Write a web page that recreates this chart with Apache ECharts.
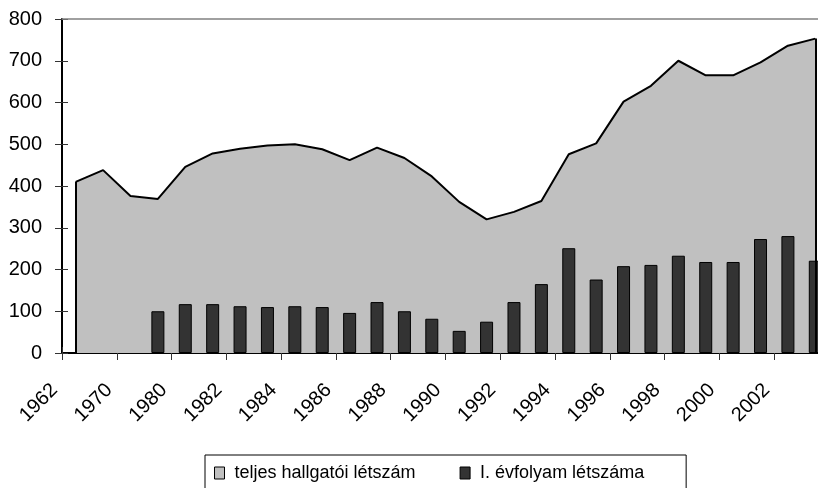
<!DOCTYPE html>
<html>
<head>
<meta charset="utf-8">
<script src="https://cdn.jsdelivr.net/npm/echarts@6/dist/echarts.min.js"></script>
<style>
  html, body { margin: 0; padding: 0; background: #fff; overflow: hidden; }
  #main { width: 829px; height: 488px; }
</style>
</head>
<body>
<div id="main"></div>
<script>
// évek (kategóriák)
const years = ['1962', '1965', '1970', '1975', '1980', '1981', '1982', '1983', '1984', '1985',
  '1986', '1987', '1988', '1989', '1990', '1991', '1992', '1993', '1994', '1995',
  '1996', '1997', '1998', '1999', '2000', '2001', '2002', '2003'];
// teljes hallgatói létszám
const total = [410, 438, 376, 369, 446, 478, 489, 497, 500, 488,
  462, 492, 467, 423, 362, 320, 338, 364, 476, 502,
  602, 640, 700, 665, 665, 696, 736, 753];
// I. évfolyam létszáma
const firstYear = [null, null, null, 100, 117, 117, 112, 110, 112, 110,
  96, 122, 100, 82, 53, 75, 122, 165, 251, 176,
  208, 211, 233, 218, 218, 273, 280, 221];

const FONT = 'Liberation Sans, Arial, sans-serif';
// a diagram jobb széle kilóg a 818 px-es képből, ezért szélesebb a vászon
const chart = echarts.init(document.getElementById('main'));

chart.setOption({
  animation: false,
  backgroundColor: '#fff',
  grid: { left: 62, top: 19, right: 0, height: 334 },
  legend: {
    left: 205, top: 455,
    orient: 'horizontal',
    padding: [9, 42, 20, 9],
    itemGap: 44,
    itemWidth: 10, itemHeight: 12,
    borderColor: '#000', borderWidth: 1,
    textStyle: { fontFamily: FONT, fontSize: 18, color: '#000', padding: [0, 0, 0, 5] },
    data: [
      { name: 'teljes hallgatói létszám', icon: 'rect',
        itemStyle: { color: '#c0c0c0', borderColor: '#000', borderWidth: 1 } },
      { name: 'I. évfolyam létszáma', icon: 'rect',
        itemStyle: { color: '#333333', borderColor: '#000', borderWidth: 1 } }
    ]
  },
  xAxis: [{
    type: 'category',
    data: years,
    boundaryGap: true,
    axisLine: { lineStyle: { color: '#000', width: 2 } },
    axisTick: { show: true, length: 7, lineStyle: { color: '#333', width: 1 } },
    axisLabel: {
      interval: 1, rotate: 45, margin: 27,
      padding: [0, 20, 0, 0],
      verticalAlign: 'bottom',
      fontFamily: FONT, fontSize: 20, color: '#000'
    },
    splitLine: { show: false }
  }, {
    type: 'category',
    data: years,
    position: 'bottom',
    boundaryGap: true,
    axisLine: { show: false },
    axisTick: { show: true, inside: true, length: 6, lineStyle: { color: '#333', width: 1 } },
    axisLabel: { show: false },
    splitLine: { show: false }
  }],
  yAxis: [{
    type: 'value',
    min: 0, max: 800, interval: 100,
    axisLine: { show: true, lineStyle: { color: '#000', width: 2 } },
    axisTick: { show: true, length: 7, lineStyle: { color: '#333', width: 1 } },
    axisLabel: { margin: 20, fontFamily: FONT, fontSize: 20, color: '#000' },
    splitLine: { show: false }
  }, {
    type: 'value',
    min: 0, max: 800, interval: 100,
    position: 'left',
    axisLine: { show: false },
    axisTick: { show: true, inside: true, length: 6, lineStyle: { color: '#333', width: 1 } },
    axisLabel: { show: false },
    splitLine: { show: false }
  }],
  series: [{
    name: 'teljes hallgatói létszám',
    type: 'line',
    data: total,
    symbol: 'none',
    lineStyle: { color: '#000', width: 2 },
    itemStyle: { color: '#c0c0c0' },
    areaStyle: { color: '#c0c0c0', opacity: 1 },
    z: 1,
    markLine: {
      silent: true, symbol: 'none', label: { show: false },
      lineStyle: { color: '#000', width: 2, type: 'solid' },
      data: [
        [{ coord: [years[0], 0] }, { coord: [years[0], total[0]] }],
        [{ coord: [years[years.length - 1], 0] }, { coord: [years[years.length - 1], total[total.length - 1]] }]
      ]
    }
  }, {
    name: 'I. évfolyam létszáma',
    type: 'bar',
    data: firstYear,
    barWidth: 13,
    itemStyle: { color: '#333333', borderColor: '#000', borderWidth: 1 },
    z: 3,
    markLine: {
      silent: true, symbol: 'none', label: { show: false },
      lineStyle: { color: '#808080', width: 1.5, type: 'solid' },
      data: [{ yAxis: 800 }]
    }
  }]
});
</script>
</body>
</html>
